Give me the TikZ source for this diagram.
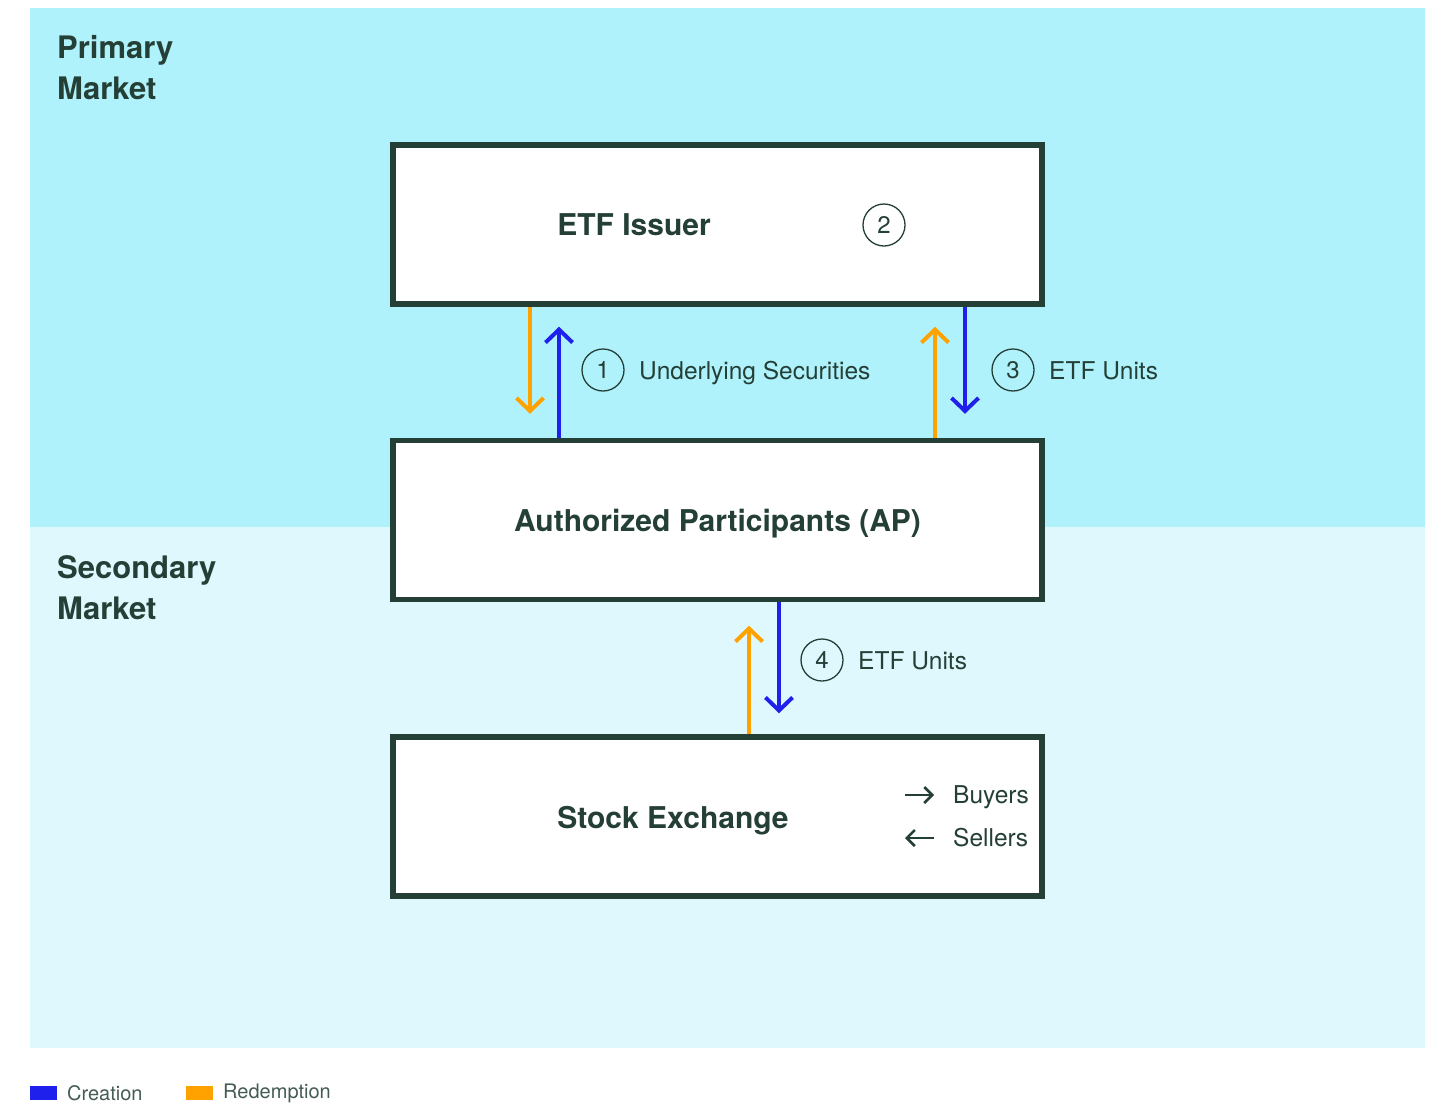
\documentclass[tikz,border=0pt]{standalone}
\usepackage{fontspec}
\setmainfont{TeX Gyre Heros}
\usetikzlibrary{arrows.meta}

\definecolor{primarybg}{HTML}{B0F2FC}
\definecolor{secondarybg}{HTML}{DFF8FE}
\definecolor{ink}{HTML}{243F36}
\definecolor{creation}{HTML}{2020EC}
\definecolor{redemption}{HTML}{FFA200}

\tikzset{
  box/.style={draw=ink, line width=5.5pt, fill=white, minimum width=649pt, minimum height=159pt, inner sep=0pt},
  boxlabel/.style={text=ink, font=\fontsize{30}{34}\selectfont\bfseries, inner sep=0pt, text depth=0pt},
  marketlabel/.style={text=ink, font=\fontsize{31}{41}\selectfont\bfseries, align=left, anchor=north west, inner sep=0pt},
  flowlabel/.style={text=ink, font=\fontsize{24.5}{28}\selectfont, anchor=base west, inner sep=0pt},
  stepnum/.style={circle, draw=ink, line width=1.3pt, minimum size=42pt, inner sep=0pt, text=ink, font=\fontsize{24}{28}\selectfont},
  flow/.style={line width=4pt, -{Straight Barb[length=13pt,width=27pt]}},
  createflow/.style={flow, draw=creation},
  redeemflow/.style={flow, draw=redemption},
  legendlabel/.style={text=ink!85!white, font=\fontsize{20}{24}\selectfont, anchor=west, inner sep=0pt}
}

\begin{document}
\begin{tikzpicture}[x=1pt,y=-1pt]
  \useasboundingbox[fill=white] (0,0) rectangle (1433,1103);

  % market areas
  \fill[primarybg] (30,8) rectangle (1425,527);
  \fill[secondarybg] (30,527) rectangle (1425,1048);
  \node[marketlabel] (primary) at (57,35) {Primary\\Market};
  \node[marketlabel] (secondary) at (57,555) {Secondary\\Market};

  % boxes
  \node[box] (issuer) at (717.5,224.5) {};
  \node[box, font=\fontsize{30}{34}\selectfont\bfseries, text=ink, text depth=0pt] (ap) at (717.5,520) {Authorized Participants (AP)};
  \node[box] (exchange) at (717.5,816.5) {};

  \node[boxlabel] (issuerlabel) at (634,225) {ETF Issuer};
  \node[stepnum] (n2) at (884,225) {2};
  \node[boxlabel] (exchangelabel) at (673,817) {Stock Exchange};

  % buyers and sellers
  \node[flowlabel] (buyers) at (953,803) {Buyers};
  \node[flowlabel] (sellers) at (953,846) {Sellers};
  \draw[ink, line width=2.5pt, -{Straight Barb[length=8pt,width=16pt]}] ([xshift=-48pt,yshift=8pt]buyers.base west) -- ([xshift=-19pt,yshift=8pt]buyers.base west);
  \draw[ink, line width=2.5pt, -{Straight Barb[length=8pt,width=16pt]}] ([xshift=-19pt,yshift=8pt]sellers.base west) -- ([xshift=-48pt,yshift=8pt]sellers.base west);

  % issuer <-> AP
  \draw[redeemflow, shorten >=24pt] ([xshift=-187.5pt]issuer.south) -- ([xshift=-187.5pt]ap.north);
  \draw[createflow, shorten >=20pt] ([xshift=-158.5pt]ap.north) -- ([xshift=-158.5pt]issuer.south);
  \draw[redeemflow, shorten >=20pt] ([xshift=217.5pt]ap.north) -- ([xshift=217.5pt]issuer.south);
  \draw[createflow, shorten >=24pt] ([xshift=247.5pt]issuer.south) -- ([xshift=247.5pt]ap.north);

  \node[stepnum] (n1) at (603,370) {1};
  \node[flowlabel] (securities) at (639,379) {Underlying Securities};
  \node[stepnum] (n3) at (1013,370) {3};
  \node[flowlabel] (units3) at (1049,379) {ETF Units};

  % AP <-> exchange
  \draw[redeemflow, shorten >=23.5pt] ([xshift=31.5pt]exchange.north) -- ([xshift=31.5pt]ap.south);
  \draw[createflow, shorten >=21pt] ([xshift=61.5pt]ap.south) -- ([xshift=61.5pt]exchange.north);

  \node[stepnum] (n4) at (822,660) {4};
  \node[flowlabel] (units4) at (858,669) {ETF Units};

  % legend
  \fill[creation] (30,1086) rectangle (57,1100);
  \node[legendlabel] (creationlabel) at (67,1093) {Creation};
  \fill[redemption] (186,1086) rectangle (213,1100);
  \node[legendlabel] (redemptionlabel) at (223,1093) {Redemption};
\end{tikzpicture}
\end{document}
